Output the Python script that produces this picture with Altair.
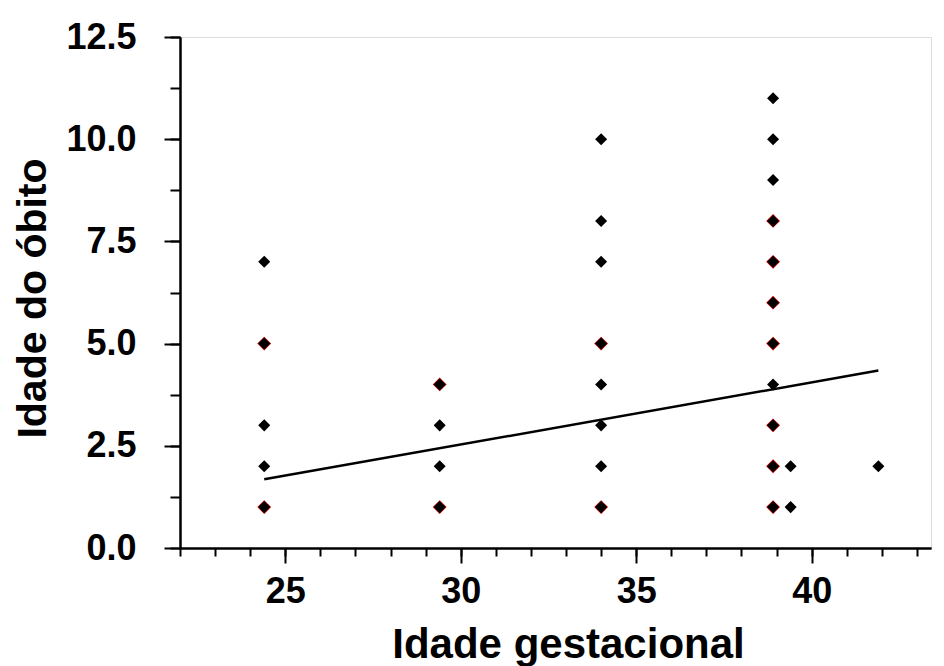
import altair as alt
import pandas as pd

# Scatter data: (gestational age, age at death)
pts_x = [24.4, 24.4, 24.4, 24.4, 24.4,
         29.4, 29.4, 29.4, 29.4,
         34.0, 34.0, 34.0, 34.0, 34.0, 34.0, 34.0, 34.0,
         38.9, 38.9, 38.9, 38.9, 38.9, 38.9, 38.9, 38.9, 38.9, 38.9, 38.9,
         39.4, 39.4,
         41.9]
pts_y = [7, 5, 3, 2, 1,
         4, 3, 2, 1,
         10, 8, 7, 5, 4, 3, 2, 1,
         11, 10, 9, 8, 7, 6, 5, 4, 3, 2, 1,
         2, 1,
         2]

# points with a red halo
red_x = [24.4, 24.4, 29.4, 29.4, 34.0, 34.0, 38.9, 38.9, 38.9, 38.9, 38.9, 38.9, 38.9]
red_y = [1, 5, 1, 4, 1, 5, 1, 2, 3, 5, 6, 7, 8]

# regression line end points
line_x = [24.4, 41.9]
line_y = [1.68, 4.34]

x_minor = list(range(22, 44))
x_major = [25, 30, 35, 40]
y_minor = [i * 1.25 for i in range(0, 11)]
y_major = [0, 2.5, 5, 7.5, 10, 12.5]

pts = pd.DataFrame({"x": pts_x, "y": pts_y})
red = pd.DataFrame({"x": red_x, "y": red_y})
line = pd.DataFrame({"x": line_x, "y": line_y})

FONT = "Liberation Sans"

xscale = alt.Scale(domain=[22, 43.4], nice=False, zero=False)
yscale = alt.Scale(domain=[0, 12.5], nice=False, zero=True)

common = dict(tickWidth=2, tickColor="black", domainColor="black", domainWidth=2, grid=False,
              labelOverlap=False, labelFlush=False, tickCount=40)

# minor-tick axes (no labels)
xaxis_minor = alt.Axis(values=x_minor, tickSize=8, labels=False, title=None, orient="bottom", **common)
yaxis_minor = alt.Axis(values=y_minor, tickSize=10, labels=False, title=None, orient="left", **common)

# major-tick axes with labels and titles
xaxis_major = alt.Axis(
    values=x_major, tickSize=15, orient="bottom", format="d",
    labelFont=FONT, labelFontSize=36, labelFontWeight="bold", labelColor="black",
    labelPadding=11,
    title="Idade gestacional", titleFont=FONT, titleFontSize=42, titleFontWeight="bold",
    titleColor="black", titleX=388, titleY=109, titleBaseline="alphabetic", titleAlign="center",
    **common,
)
yaxis_major = alt.Axis(
    values=y_major, tickSize=16, orient="left", format=".1f",
    labelFont=FONT, labelFontSize=36, labelFontWeight="bold", labelColor="black",
    labelPadding=28,
    title="Idade do óbito", titleFont=FONT, titleFontSize=41, titleFontWeight="bold",
    titleColor="black", titleX=-147, titleY=261, titleBaseline="middle", titleAlign="center",
    titleAngle=270, **common,
)

red_layer = alt.Chart(red).mark_point(shape="diamond", filled=True, color="#d00000", size=190, opacity=1).encode(
    x=alt.X("x:Q", scale=xscale, axis=xaxis_minor),
    y=alt.Y("y:Q", scale=yscale, axis=yaxis_minor),
)
blk_layer = alt.Chart(pts).mark_point(shape="diamond", filled=True, color="black", size=145, opacity=1).encode(
    x=alt.X("x:Q", scale=xscale, axis=xaxis_major),
    y=alt.Y("y:Q", scale=yscale, axis=yaxis_major),
)
line_layer = alt.Chart(line).mark_line(color="black", strokeWidth=2.5).encode(
    x=alt.X("x:Q", axis=None), y=alt.Y("y:Q", axis=None),
)

chart = alt.layer(red_layer, blk_layer, line_layer).resolve_axis(
    x="independent", y="independent"
).properties(
    width=751, height=511,
    autosize=alt.AutoSizeParams(type="none"),
    padding={"left": 172, "top": 29, "right": 5, "bottom": 118},
).configure_view(stroke=None).configure(background="white")

chart.save("out.html", embed_options={"renderer": "svg", "actions": False})
